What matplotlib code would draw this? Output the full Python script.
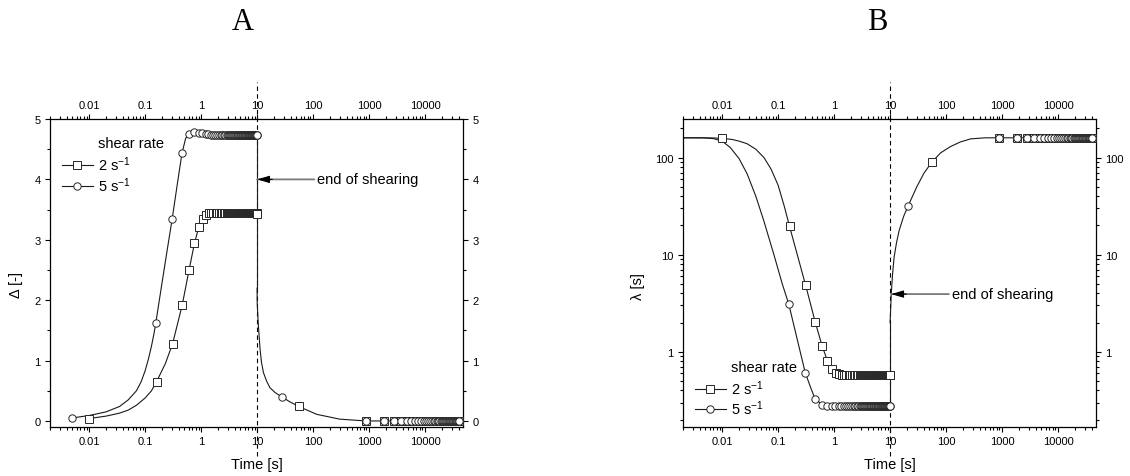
import numpy as np
import matplotlib
matplotlib.use("Agg")
import matplotlib.pyplot as plt
from matplotlib.lines import Line2D
from matplotlib.ticker import FixedLocator, FixedFormatter, LogLocator, FuncFormatter, MultipleLocator, NullFormatter

plt.rcParams['font.family'] = ['Liberation Sans', 'DejaVu Sans']
plt.rcParams['mathtext.fontset'] = 'custom'
plt.rcParams['mathtext.rm'] = 'Liberation Sans'
plt.rcParams['mathtext.it'] = 'Liberation Sans:italic'

# ==========================
# Dati
# ==========================
# tempi dei marker durante lo shear (s)
t_sq = [0.01, 0.16, 0.31, 0.46, 0.61, 0.76, 0.91, 1.06, 1.21, 1.36, 1.51, 1.66, 1.81, 1.96,
        2.11, 2.26, 2.41, 2.56, 2.71, 2.86, 3.01, 3.16, 3.31, 3.46, 3.61, 3.76, 3.91, 4.06,
        4.21, 4.36, 4.51, 4.66, 4.81, 4.96, 5.11, 5.26, 5.41, 5.56, 5.71, 5.86, 6.01, 6.16,
        6.31, 6.46, 6.61, 6.76, 6.91, 7.06, 7.21, 7.36, 7.51, 7.66, 7.81, 7.96, 8.11, 8.26,
        8.41, 8.56, 8.71, 8.86, 9.01, 9.16, 9.31, 9.46, 9.61, 9.76, 9.91, 10.0]
t_ci = [0.005, 0.155, 0.305, 0.455, 0.605, 0.755, 0.905, 1.055, 1.205, 1.355, 1.505, 1.655,
        1.805, 1.955, 2.105, 2.255, 2.405, 2.555, 2.705, 2.855, 3.005, 3.155, 3.305, 3.455,
        3.605, 3.755, 3.905, 4.055, 4.205, 4.355, 4.505, 4.655, 4.805, 4.955, 5.105, 5.255,
        5.405, 5.555, 5.705, 5.855, 6.005, 6.155, 6.305, 6.455, 6.605, 6.755, 6.905, 7.055,
        7.205, 7.355, 7.505, 7.655, 7.805, 7.955, 8.105, 8.255, 8.405, 8.555, 8.705, 8.855,
        9.005, 9.155, 9.305, 9.455, 9.605, 9.755, 9.905, 10.0]

# tempi dei marker dopo lo shear (riposo)
t_rest = [880, 1830, 2780, 3730, 4680, 5630, 6580, 7530, 8480, 9430, 10380, 11330, 12280,
          13230, 14180, 15130, 16080, 17030, 17980, 18930, 19880, 20830, 21780, 22730, 23680,
          24630, 25580, 26530, 27480, 28430, 29380, 30330, 31280, 32230, 33180, 34130, 35080,
          36030, 36980, 37930, 38880, 39830, 40780]

# --- Pannello A: Delta [-] ---
dA_sq = [0.04, 0.65, 1.28, 1.92, 2.50, 2.94, 3.21, 3.35, 3.41, 3.44, 3.45, 3.45, 3.45, 3.45,
         3.44, 3.44, 3.44, 3.44, 3.44, 3.44, 3.44, 3.44, 3.44, 3.44, 3.44, 3.44, 3.44, 3.44,
         3.44, 3.44, 3.44, 3.44, 3.44, 3.44, 3.44, 3.44, 3.44, 3.44, 3.44, 3.44, 3.44, 3.44,
         3.44, 3.44, 3.44, 3.44, 3.44, 3.44, 3.44, 3.44, 3.44, 3.44, 3.44, 3.44, 3.44, 3.44,
         3.44, 3.44, 3.44, 3.44, 3.44, 3.44, 3.44, 3.44, 3.44, 3.44, 3.44, 3.43]
dA_ci = [0.05, 1.62, 3.35, 4.43, 4.75, 4.78, 4.77, 4.76, 4.75, 4.75, 4.74, 4.74, 4.74, 4.73,
         4.73, 4.73, 4.73, 4.73, 4.73, 4.73, 4.73, 4.73, 4.73, 4.73, 4.73, 4.73, 4.73, 4.73,
         4.73, 4.73, 4.73, 4.73, 4.73, 4.73, 4.73, 4.73, 4.73, 4.73, 4.73, 4.73, 4.73, 4.73,
         4.73, 4.73, 4.73, 4.73, 4.73, 4.73, 4.73, 4.73, 4.73, 4.73, 4.73, 4.73, 4.73, 4.73,
         4.73, 4.73, 4.73, 4.73, 4.73, 4.73, 4.73, 4.73, 4.73, 4.73, 4.73, 4.73]
# marker nel recupero
tA_sq_rec, dA_sq_rec = [55.5], [0.24]
tA_ci_rec, dA_ci_rec = [27.6], [0.40]
dA_rest = [0.0, 0.0, 0.0, 0.0, 0.0, 0.0, 0.0, 0.0, 0.0, 0.0, 0.0, 0.0, 0.0, 0.0,
           0.0, 0.0, 0.0, 0.0, 0.0, 0.0, 0.0, 0.0, 0.0, 0.0, 0.0, 0.0, 0.0, 0.0,
           0.0, 0.0, 0.0, 0.0, 0.0, 0.0, 0.0, 0.0, 0.0, 0.0, 0.0, 0.0, 0.0, 0.0, 0.0]

# curve continue
cA_sq_t = [0.01, 0.02, 0.035, 0.05, 0.07, 0.1, 0.13, 0.16, 0.23, 0.31, 0.46, 0.61, 0.76,
           0.91, 1.06, 1.21, 1.5, 10.0]
cA_sq_v = [0.04, 0.08, 0.13, 0.18, 0.26, 0.38, 0.50, 0.65, 0.95, 1.28, 1.92, 2.50, 2.94,
           3.21, 3.35, 3.41, 3.44, 3.43]
cA_ci_t = [0.005, 0.01, 0.02, 0.035, 0.05, 0.07, 0.085, 0.1, 0.115, 0.13, 0.145, 0.155,
           0.2, 0.25, 0.305, 0.38, 0.455, 0.53, 0.605, 0.755, 1.0, 10.0]
cA_ci_v = [0.05, 0.09, 0.15, 0.24, 0.35, 0.50, 0.65, 0.83, 1.03, 1.24, 1.46, 1.62,
           2.28, 2.85, 3.35, 3.95, 4.43, 4.68, 4.75, 4.78, 4.75, 4.73]
cA_rec_t = [10.0, 10.05, 10.55, 11.3, 12.0, 13.0, 14.8, 17.0, 21.0, 27.6, 38.0, 55.5, 116,
            300, 880, 40780]
cA_rec_v = [2.2, 1.95, 1.58, 1.19, 0.97, 0.80, 0.66, 0.55, 0.47, 0.40, 0.32, 0.24, 0.11,
            0.03, 0.0, 0.0]

# --- Pannello B: lambda [s] ---
lB_sq = [160, 19.6, 4.85, 2.03, 1.15, 0.81, 0.67, 0.61, 0.585, 0.575, 0.57, 0.57, 0.57, 0.57,
         0.57, 0.57, 0.57, 0.57, 0.57, 0.57, 0.57, 0.57, 0.57, 0.57, 0.57, 0.57, 0.57, 0.57,
         0.57, 0.57, 0.57, 0.57, 0.57, 0.57, 0.57, 0.57, 0.57, 0.57, 0.57, 0.57, 0.57, 0.57,
         0.57, 0.57, 0.57, 0.57, 0.57, 0.57, 0.57, 0.57, 0.57, 0.57, 0.57, 0.57, 0.57, 0.57,
         0.57, 0.57, 0.57, 0.57, 0.57, 0.57, 0.57, 0.57, 0.57, 0.57, 0.57, 0.57]
lB_ci = [3.1, 0.61, 0.33, 0.285, 0.278, 0.277, 0.277, 0.277, 0.277, 0.277, 0.277, 0.277,
         0.277, 0.277, 0.277, 0.277, 0.277, 0.277, 0.277, 0.277, 0.277, 0.277, 0.277, 0.277,
         0.277, 0.277, 0.277, 0.277, 0.277, 0.277, 0.277, 0.277, 0.277, 0.277, 0.277, 0.277,
         0.277, 0.277, 0.277, 0.277, 0.277, 0.277, 0.277, 0.277, 0.277, 0.277, 0.277, 0.277,
         0.277, 0.277, 0.277, 0.277, 0.277, 0.277, 0.277, 0.277, 0.277, 0.277, 0.277, 0.277,
         0.277, 0.277, 0.277, 0.277, 0.277, 0.277, 0.277]
tB_sq_rec, lB_sq_rec = [55.6], [89.7]
tB_ci_rec, lB_ci_rec = [21.0], [31.8]
lB_rest = [160, 160, 160, 160, 160, 160, 160, 160, 160, 160, 160, 160, 160, 160, 160, 160,
           160, 160, 160, 160, 160, 160, 160, 160, 160, 160, 160, 160, 160, 160, 160, 160,
           160, 160, 160, 160, 160, 160, 160, 160, 160, 160, 160]

cB_sq_t = [0.0021, 0.004, 0.007, 0.01, 0.015, 0.02, 0.028, 0.04, 0.056, 0.075, 0.1, 0.13,
           0.16, 0.31, 0.46, 0.61, 0.76, 0.91, 1.06, 1.21, 1.5, 10.0]
cB_sq_v = [160, 160, 159.5, 158, 154, 148, 139, 122, 100, 76, 52, 31,
           19.6, 4.85, 2.03, 1.15, 0.81, 0.67, 0.61, 0.585, 0.57, 0.57]
cB_ci_t = [0.0021, 0.0045, 0.007, 0.01, 0.014, 0.02, 0.028, 0.04, 0.056, 0.085, 0.12, 0.155,
           0.305, 0.38, 0.455, 0.605, 0.755, 1.0, 10.0]
cB_ci_v = [160, 160, 157, 148, 127, 98, 68, 40, 22, 9.8, 4.9, 3.1,
           0.61, 0.43, 0.33, 0.285, 0.278, 0.277, 0.277]
cB_rec_t = [10.0, 10.2, 10.5, 11.0, 11.8, 13.0, 14.5, 17.5, 21.0, 30.0, 40.0, 55.6, 80.0,
            120, 180, 275, 500, 880, 40780]
cB_rec_v = [2.0, 2.6, 3.93, 6.0, 9.4, 13.2, 17.7, 24.9, 31.8, 50, 68.7, 89.7, 112,
            130, 145, 156, 160, 160, 160]

x_ticks = [0.01, 0.1, 1, 10, 100, 1000, 10000]
x_ticklabels = ["0.01", "0.1", "1", "10", "100", "1000", "10000"]

# ==========================
# Stile
# ==========================
LC = "#1a1a1a"
mk = dict(ls="none", mfc="white", mec="#262626", mew=0.7, ms=5.3, zorder=3)
ln = dict(color=LC, lw=0.8, zorder=2)
FS = 10.5

fig = plt.figure(figsize=(11.3, 4.77), dpi=100)
W, H = 1130, 477
axA = fig.add_axes([50 / W, 1 - 428 / H, 413 / W, 308 / H])
axB = fig.add_axes([683 / W, 1 - 428 / H, 413 / W, 308 / H])


def style_axis(ax):
    ax.set_xscale("log")
    ax.set_xlim(0.002, 47700)
    ax.xaxis.set_major_locator(FixedLocator(x_ticks))
    ax.xaxis.set_major_formatter(FixedFormatter(x_ticklabels))
    ax.xaxis.set_minor_locator(LogLocator(base=10, subs=np.arange(2, 10), numticks=20))
    ax.xaxis.set_minor_formatter(NullFormatter())
    ax.tick_params(which="both", direction="out", top=True, right=True,
                   labeltop=True, labelright=True, width=0.8, labelsize=8, pad=3)
    ax.tick_params(which="major", length=3.8)
    ax.tick_params(which="minor", length=2.2)
    for s in ax.spines.values():
        s.set_linewidth(0.9)
    ax.axvline(10, ymin=-0.095, ymax=1.12, color="black", lw=0.8,
               ls=(0, (4, 3)), clip_on=False, zorder=1)


def end_arrow(ax, xy, xytext):
    # fusto grigio + punta nera
    ax.annotate("end of shearing", xy=xy, xytext=xytext, fontsize=FS,
                ha="left", va="center",
                arrowprops=dict(arrowstyle="-", color="#7a7a7a", lw=1.3,
                                shrinkA=0, shrinkB=0, relpos=(0, 0.5)))
    ax.annotate("", xy=xy, xytext=(11, 0), textcoords="offset points",
                arrowprops=dict(arrowstyle="-|>,head_length=0.75,head_width=0.22",
                                color="black", lw=0.8, shrinkA=0, shrinkB=0))


# ==========================
# Pannello A
# ==========================
style_axis(axA)
axA.set_ylim(-0.1, 5)
axA.yaxis.set_major_locator(MultipleLocator(1))
axA.yaxis.set_minor_locator(MultipleLocator(0.5))

axA.plot(cA_sq_t, cA_sq_v, **ln)
axA.plot(cA_ci_t, cA_ci_v, **ln)
axA.plot([10.0, 10.0], [cA_ci_v[-1], cA_rec_v[0]], **ln)
axA.plot(cA_rec_t, cA_rec_v, **ln)

axA.plot(t_sq, dA_sq, marker="s", **mk)
axA.plot(t_ci, dA_ci, marker="o", **mk)
axA.plot(tA_sq_rec + t_rest, dA_sq_rec + dA_rest, marker="s", **mk)
axA.plot(tA_ci_rec + t_rest, dA_ci_rec + dA_rest, marker="o", **mk)

end_arrow(axA, (10, 4.0), (118, 4.0))

axA.set_xlabel("Time [s]", fontsize=FS)
axA.xaxis.set_label_coords(0.5, -0.097)
axA.set_ylabel("Δ [-]", fontsize=FS)
axA.yaxis.set_label_coords(-0.065, 0.464)

# ==========================
# Pannello B
# ==========================
style_axis(axB)
axB.set_yscale("log")
axB.set_ylim(0.168, 250)
axB.yaxis.set_major_locator(LogLocator(base=10, numticks=10))
axB.yaxis.set_major_formatter(FuncFormatter(lambda v, p: f"{v:g}"))
axB.yaxis.set_minor_locator(LogLocator(base=10, subs=np.arange(2, 10), numticks=20))
axB.yaxis.set_minor_formatter(NullFormatter())

axB.plot(cB_sq_t, cB_sq_v, **ln)
axB.plot(cB_ci_t, cB_ci_v, **ln)
axB.plot([10.0, 10.0], [cB_ci_v[-1], cB_rec_v[0]], **ln)
axB.plot(cB_rec_t, cB_rec_v, **ln)

axB.plot(t_sq, lB_sq, marker="s", **mk)
axB.plot(t_ci[1:], lB_ci, marker="o", **mk)
axB.plot(tB_sq_rec + t_rest, lB_sq_rec + lB_rest, marker="s", **mk)
axB.plot(tB_ci_rec + t_rest, lB_ci_rec + lB_rest, marker="o", **mk)

end_arrow(axB, (10.45, 3.93), (126, 3.93))

axB.set_xlabel("Time [s]", fontsize=FS)
axB.xaxis.set_label_coords(0.5, -0.097)
axB.set_ylabel("λ [s]", fontsize=FS)
axB.yaxis.set_label_coords(-0.092, 0.458)

# ==========================
# Legende
# ==========================
handles = [Line2D([], [], color=LC, lw=0.8, marker="s", mfc="white", mec="#262626", mew=0.7, ms=5.3),
           Line2D([], [], color=LC, lw=0.8, marker="o", mfc="white", mec="#262626", mew=0.7, ms=5.3)]
labels = ["2 s$^{-1}$", "5 s$^{-1}$"]
for ax, ytitle, yleg in [(axA, 0.922, 0.884), (axB, 0.195, 0.158)]:
    ax.text(0.116, ytitle, "shear rate", transform=ax.transAxes, fontsize=FS,
            ha="left", va="center")
    ax.legend(handles, labels, loc="upper left", bbox_to_anchor=(0.029, yleg),
              frameon=False, fontsize=FS, handlelength=2.1, handletextpad=0.35,
              labelspacing=0.12, borderpad=0, borderaxespad=0)

fig.text(243 / W, 1 - 22 / H, "A", fontsize=22, family="Liberation Serif",
         ha="center", va="center")
fig.text(877 / W, 1 - 22 / H, "B", fontsize=22, family="Liberation Serif",
         ha="center", va="center")

fig.savefig("out.png", dpi=100)
